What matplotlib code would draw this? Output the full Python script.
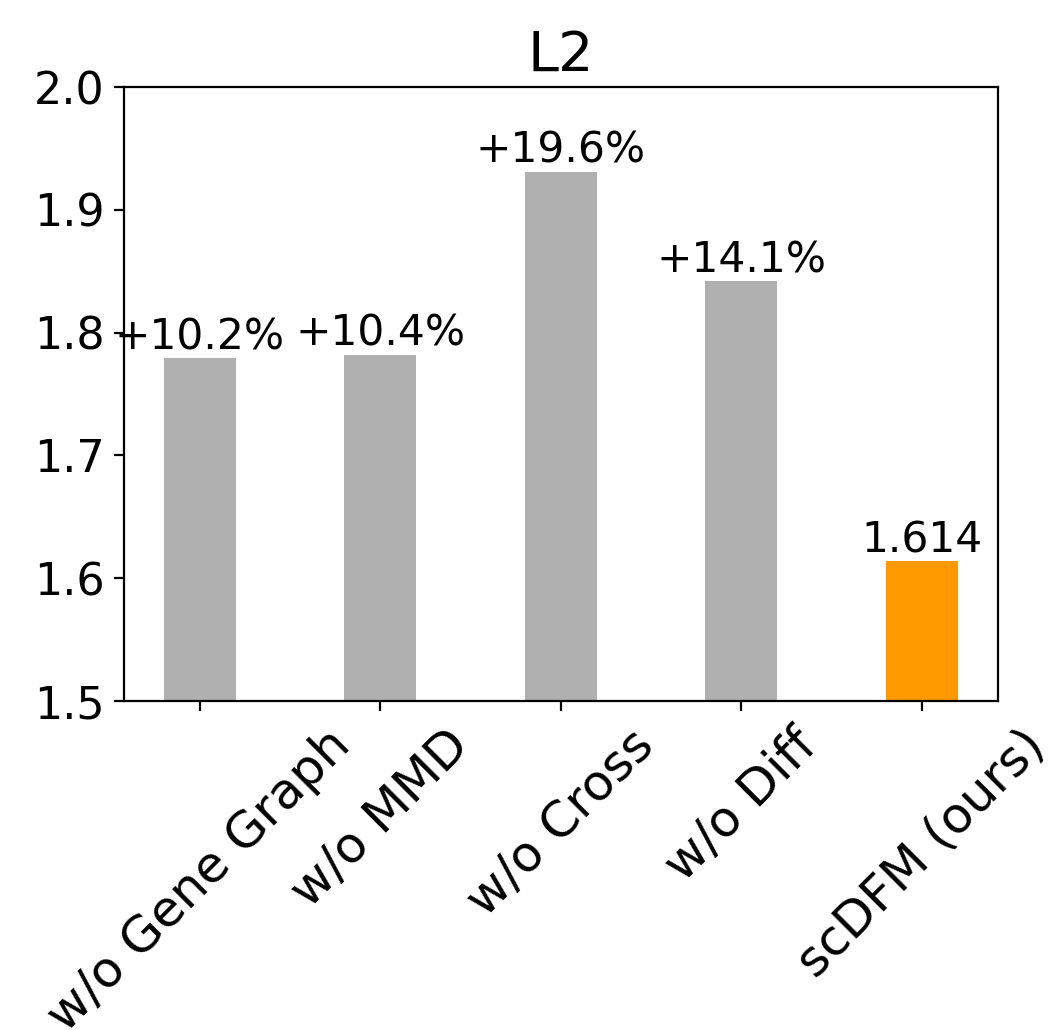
import numpy as np
import matplotlib.pyplot as plt

# datos
variantes = ['w/o Gene Graph', 'w/o MMD', 'w/o Cross', 'w/o Diff', 'scDFM (ours)']
l2 = [1.779, 1.782, 1.931, 1.842, 1.614]
colores = ['#b0b0b0', '#b0b0b0', '#b0b0b0', '#b0b0b0', '#ff9900']

fig = plt.figure(figsize=(10.5, 10.3), dpi=100)
ax = fig.add_axes([0.118, 0.3194, 0.832, 0.5961])

x = np.arange(len(variantes))
ax.bar(x, l2, width=0.4, color=colores)

ref = l2[-1]
for xi, v in zip(x, l2):
    if v == ref:
        txt = f'{v:.3f}'
    else:
        txt = f'+{(v - ref) / ref * 100:.1f}%'
    ax.text(xi, v, txt, ha='center', va='bottom', fontsize=30.5)

ax.set_ylim(1.5, 2.0)
ax.set_yticks([1.5, 1.6, 1.7, 1.8, 1.9, 2.0])
ax.set_xticks(x)
ax.set_xticklabels(variantes, rotation=45, ha='center')
ax.tick_params(length=7, width=1.6)
ax.tick_params(axis='y', labelsize=32, pad=7)
ax.tick_params(axis='x', labelsize=36, pad=7)
for s in ax.spines.values():
    s.set_linewidth(1.6)
ax.set_title('L2', fontsize=40, pad=12)

fig.savefig('out.png', dpi=100)
